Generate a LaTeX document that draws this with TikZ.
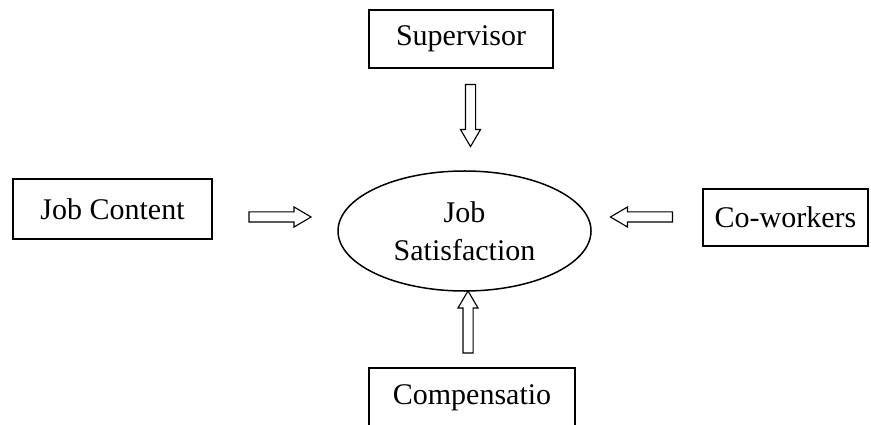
\documentclass[tikz,border=0pt]{standalone}
\usepackage{fontspec}
\setmainfont{Liberation Serif}
\usetikzlibrary{shapes.geometric,shapes.arrows,calc}
\tikzset{
  box/.style={draw, line width=0.6pt, inner sep=0pt, align=center,
              font=\fontsize{12}{15.2}\selectfont},
  goal/.style={box, ellipse},
  fatarrow/.style={single arrow, draw, line width=0.45pt, inner sep=1.8pt,
                   minimum width=7.6pt, minimum height=24.8pt,
                   single arrow head extend=2pt, single arrow tip angle=61},
}
\begin{document}
\begin{tikzpicture}[x=0.4pt, y=-0.4pt]
  \useasboundingbox (0,0) rectangle (871,425);
  % centre
  \node[goal, minimum width=101.2pt, minimum height=48pt] (sat) at (464.5,231)
    {Job\\Satisfaction};
  % factors
  \node[box, minimum width=73.6pt, minimum height=23.2pt] (sup) at (461,39) {Supervisor};
  \node[box, minimum width=79.6pt, minimum height=24pt] (job) at (112.5,209) {Job Content};
  \node[box, minimum width=66pt, minimum height=22.8pt] (cow) at (785.5,217.5) {Co-workers};
  \node[box, minimum width=82.4pt, minimum height=24pt] (com) at (472,398) {Compensatio};
  % block arrows
  \node[fatarrow, rotate=-90] (a-sup) at ($(sat.north)+(6,-59)$) {};
  \node[fatarrow] (a-job) at ($(job.east)+(63,8)$) {};
  \node[fatarrow, rotate=180] (a-cow) at ($(cow.west)+(-56.5,-0.5)$) {};
  \node[fatarrow, rotate=90] (a-com) at ($(com.north)+(-4,-41)$) {};
\end{tikzpicture}
\end{document}
